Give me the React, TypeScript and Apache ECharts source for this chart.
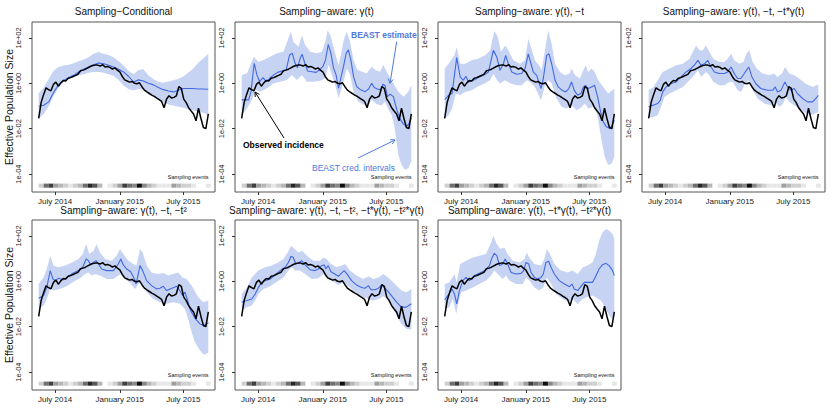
import React, { useEffect, useRef } from 'react';
import * as echarts from 'echarts';

const FONT = '"Liberation Sans", Arial, Helvetica, sans-serif';
const DAY = 86400000;
const WEEK = 7 * DAY;
const START = Date.UTC(2014, 4, 15);
const X_MIN = Date.UTC(2014, 3, 26);
const X_MAX = Date.UTC(2015, 8, 29);
const Y_MIN = -4.79;
const Y_MAX = 2.7;
const xTickDates = [Date.UTC(2014, 6, 1), Date.UTC(2015, 0, 1), Date.UTC(2015, 6, 1)];
const MONTHS = ['January', 'February', 'March', 'April', 'May', 'June', 'July', 'August', 'September', 'October', 'November', 'December'];
const yTickExponents = [-4, -2, 0, 2];

const titles = [
  'Sampling\u2212Conditional',
  'Sampling\u2212aware: \u03b3(t)',
  'Sampling\u2212aware: \u03b3(t), \u2212t',
  'Sampling\u2212aware: \u03b3(t), \u2212t, \u2212t*\u03b3(t)',
  'Sampling\u2212aware: \u03b3(t), \u2212t, \u2212t\u00b2',
  'Sampling\u2212aware: \u03b3(t), \u2212t, \u2212t\u00b2, \u2212t*\u03b3(t), \u2212t\u00b2*\u03b3(t)',
  'Sampling\u2212aware: \u03b3(t), \u2212t*\u03b3(t), \u2212t\u00b2*\u03b3(t)',
];

// weekly observed incidence (log10), week 0 = 2014-05-15
const observedLog10 = [
  -1.55, -0.85, -0.5, -0.2, -0.28, -0.33, -0.05, 0.05, -0.13, 0.02,
  0.12, 0.1, 0.22, 0.25, 0.3, 0.35, 0.4, 0.55, 0.58, 0.62,
  0.68, 0.74, 0.78, 0.8, 0.8, 0.76, 0.82, 0.72, 0.74, 0.7,
  0.62, 0.68, 0.58, 0.5, 0.3, 0.15, 0.1, 0.05, 0.08, 0.0,
  -0.02, 0.02, -0.15, -0.3, -0.38, -0.45, -0.52, -0.58, -0.65, -0.72,
  -0.8, -1.08, -0.7, -0.55, -0.65, -0.62, -0.55, -0.15, -0.22, -0.7,
  -0.85, -1.08, -1.22, -1.35, -1.65, -1.1, -1.55, -1.95, -2.0, -1.35,
];

// sampling events per two-week bin
const samplingCounts = [2, 6, 8, 4, 3, 2, 1, 2, 3, 6, 9, 7, 3, 0, 1, 2, 4, 8, 6, 5, 10, 5, 3, 2, 1, 1, 1, 4, 3, 2, 2, 1, 0, 0, 1];

// [week, log10 Ne]
const p1Mean = [[0,-1.01],[2,-0.97],[4.1,-0.82],[6.1,-0.4],[8.1,-0.05],[10.1,0.12],[12.2,0.25],[14.2,0.35],[16.2,0.5],[18.3,0.62],[20.3,0.72],[22.3,0.82],[24.4,0.89],[26.4,0.86],[28.4,0.79],[30.4,0.72],[32.5,0.62],[34.5,0.5],[36.5,0.31],[38.6,0.06],[40.6,0.15],[42.6,0.1],[44.6,0.0],[46.7,-0.07],[48.7,-0.19],[50.7,-0.28],[52.8,-0.34],[54.8,-0.38],[56.8,-0.31],[58.8,-0.23],[60.9,-0.23],[62.9,-0.23],[64.9,-0.25],[67,-0.25],[69,-0.26]];
const p1Upper = [[0,-0.45],[2,-0.2],[4.1,0.2],[6.1,0.55],[8.1,0.72],[10.1,0.78],[12.2,0.82],[14.2,0.88],[16.2,0.97],[18.3,1.05],[20.3,1.15],[22.3,1.3],[24.4,1.38],[26.4,1.3],[28.4,1.25],[30.4,1.15],[32.5,0.97],[34.5,0.78],[36.5,0.55],[38.6,0.4],[40.6,0.58],[42.6,0.62],[44.6,0.35],[46.7,0.18],[48.7,0.07],[50.7,0.02],[52.8,0.08],[54.8,0.13],[56.8,0.2],[58.8,0.3],[60.9,0.48],[62.9,0.65],[64.9,0.9],[67,1.1],[69,1.3]];
const p1Lower = [[0,-1.55],[2,-1.35],[4.1,-1.0],[6.1,-0.55],[8.1,-0.2],[10.1,0.05],[12.2,0.18],[14.2,0.28],[16.2,0.34],[18.3,0.4],[20.3,0.46],[22.3,0.5],[24.4,0.5],[26.4,0.46],[28.4,0.4],[30.4,0.33],[32.5,0.15],[34.5,-0.1],[36.5,-0.25],[38.6,-0.32],[40.6,-0.25],[42.6,-0.28],[44.6,-0.38],[46.7,-0.55],[48.7,-0.72],[50.7,-0.85],[52.8,-0.93],[54.8,-0.98],[56.8,-1.03],[58.8,-1.08],[60.9,-1.15],[62.9,-1.2],[64.9,-1.25],[67,-1.3],[69,-1.4]];

const p2Mean = [[0,-0.73],[2.8,-0.73],[3.8,-0.37],[5.1,0.88],[6.2,0.37],[7.3,0.07],[8.7,0.25],[10,0.07],[11.4,0.22],[13,0.37],[14.6,0.48],[16.4,0.54],[18.1,0.59],[19.5,1.25],[20.6,1.32],[21.7,0.88],[22.7,0.69],[23.8,1.1],[24.6,1.28],[25.7,0.88],[26.8,0.54],[28.6,0.51],[30.3,0.48],[31.7,0.59],[33,0.73],[34.1,1.03],[35.2,1.71],[36.3,1.32],[37.3,0.69],[38.4,0.37],[39.4,-0.22],[40.3,0.22],[41.4,0.73],[42.5,1.32],[43.4,1.47],[44.4,1.03],[45.5,0.29],[46.8,-0.15],[48.4,-0.29],[50.2,-0.37],[51.6,-0.25],[52.9,0.0],[53.9,-0.19],[55.2,-0.25],[56.6,-0.29],[57.4,-0.04],[58.3,-0.1],[59.3,-0.59],[60.4,-0.48],[61.7,-0.59],[63.1,-1.17],[64.4,-1.57],[65.8,-1.8],[67.1,-1.9],[68.2,-1.76],[69,-1.51]];
const p2Upper = [[0,0.37],[2.2,0.44],[4.9,1.17],[6.9,0.95],[8.9,1.03],[11.6,1.17],[14.3,1.32],[17,1.39],[19,1.98],[20,2.27],[21,1.83],[23.1,1.61],[24.5,2.12],[25.8,1.69],[27.9,1.39],[30.6,1.32],[32.6,1.39],[34,1.83],[35,2.34],[36.3,2.05],[38,1.32],[39.4,0.81],[40.3,1.25],[41.7,1.98],[42.8,2.27],[44.1,1.83],[45.5,1.03],[47.1,0.59],[48.9,0.51],[50.9,0.44],[52.9,0.73],[54.3,0.59],[56.3,0.51],[57.6,0.81],[59,0.51],[60.4,0.22],[61.7,0.0],[63.7,-0.37],[65.8,-0.59],[67.8,-0.37],[69,-0.07]];
const p2Lower = [[0,-1.39],[2.2,-1.1],[4.2,-0.73],[5.5,-0.29],[7.6,-0.37],[10.3,-0.22],[13,0],[15.7,0.07],[18.4,0.15],[20.4,0.37],[22.5,0.15],[24.5,0.37],[26.5,0.07],[29.2,0.07],[31.9,0.1],[34,0.22],[35.3,0.81],[36.7,0.37],[38,-0.07],[39.4,-0.66],[40.7,-0.22],[42.8,0.66],[44.1,0.37],[45.5,-0.37],[47.5,-0.81],[49.5,-0.95],[51.6,-0.95],[52.9,-0.73],[54.9,-0.92],[56.9,-0.98],[58.3,-0.81],[59.7,-1.17],[61,-1.39],[62,-1.83],[62.8,-2.42],[63.7,-3.15],[65,-3.59],[66.4,-3.81],[67.8,-3.74],[69,-3.44]];

const p3Mean = [[0,-0.72],[1.6,-0.53],[3,-0.45],[4.9,1.13],[6.3,0.28],[7.6,0.13],[8.6,0.31],[9.7,0.06],[11.7,0.13],[13.7,0.25],[15.8,0.35],[17.8,0.5],[19.8,1.45],[21.2,1.16],[22.5,0.57],[23.9,0.86],[24.8,1.23],[25.9,0.86],[27.3,0.5],[29.3,0.4],[31.3,0.43],[32.7,0.65],[34,1.3],[35.1,0.86],[36,0.5],[37.4,0.35],[39.2,-0.23],[40.1,0.2],[41.5,1.23],[42.4,1.3],[43.5,0.86],[44.9,0.13],[46.2,-0.16],[47.8,-0.31],[49.2,-0.38],[50.5,-0.23],[51.6,0.06],[52.7,-0.31],[54.1,-0.53],[55.4,-0.45],[56.4,-0.16],[57.3,-0.09],[58.4,-0.23],[59.7,-0.16],[61,-0.09],[62.2,-0.6],[63.3,-1.19],[64.5,-1.7],[65.8,-1.92],[67.2,-1.99],[68.1,-1.85],[69,-1.63]];
const p3Upper = [[0,0.64],[1.6,0.86],[4,1.23],[4.9,1.6],[6.3,0.86],[8.3,0.86],[11,1.01],[13.7,1.08],[16.4,1.23],[18.5,1.45],[20.2,2.3],[21.6,2.04],[22.9,1.38],[24.6,1.67],[25.9,1.45],[27.9,1.01],[30.6,0.86],[32.7,1.01],[34,1.96],[35.1,1.6],[36.7,1.01],[38.8,0.72],[39.4,0.57],[40.8,1.45],[42.1,2.33],[43.5,1.74],[44.9,0.86],[46.9,0.5],[48.9,0.35],[50.9,0.43],[51.6,0.65],[53,0.35],[55,0.21],[56.4,0.57],[57.3,0.79],[58.4,0.5],[59.7,0.65],[61,0.5],[62.5,0.13],[64.5,-0.16],[66.5,-0.45],[69,-0.23]];
const p3Lower = [[0,-1.55],[1.6,-1.41],[3,-1.11],[4.5,-0.45],[6.3,-0.53],[8.3,-0.38],[11,-0.31],[13.7,-0.13],[16.4,0],[18.5,0.13],[19.8,0.42],[21.2,0.16],[22.5,-0.01],[24.6,0.13],[26.6,0],[29.3,-0.09],[31.3,-0.09],[33.4,0.13],[34.7,0.06],[36.7,-0.16],[39.2,-0.75],[40.8,-0.09],[42.1,0.13],[43.5,0],[45.5,-0.67],[47.6,-1.04],[49.6,-1.11],[51.6,-0.97],[53.7,-1.19],[55.7,-1.04],[57,-0.89],[58.4,-1.11],[60.4,-1.04],[61.8,-1.26],[62.7,-1.77],[63.8,-2.51],[65.1,-3.24],[66.5,-3.6],[67.9,-3.53],[69,-3.24]];

const p4Mean = [[0,-1.04],[1.7,-0.97],[3.7,-0.89],[4.7,-0.75],[5.7,-0.38],[7.1,-0.16],[9.1,-0.01],[11.2,0.06],[13.2,0.28],[15.2,0.5],[17.2,0.65],[19,0.86],[20,1.01],[21.3,0.79],[22.7,0.86],[24,1.01],[25.4,0.72],[26.7,0.5],[28.7,0.43],[30.8,0.43],[32.1,0.5],[33.5,0.72],[34.8,0.43],[36.2,0.21],[37.5,0.21],[39.3,0.5],[40.7,0.72],[42,0.28],[43.6,-0.02],[45.6,-0.23],[48.4,-0.31],[50.4,-0.31],[51.5,-0.16],[52.4,-0.38],[53.8,-0.31],[55.4,0.06],[56.5,-0.16],[57.8,-0.31],[59.2,-0.23],[60.5,-0.45],[62.6,-0.67],[64.6,-0.82],[66.7,-0.82],[68,-0.67],[69,-0.53]];
const p4Upper = [[0,-0.3],[1.7,-0.2],[3.5,0.1],[5.7,0.5],[8.5,0.65],[11.2,0.79],[13.9,0.86],[16.6,1.08],[17.9,1.38],[19.3,1.67],[20.6,1.45],[22,1.45],[23.3,1.67],[24.7,1.38],[26.3,1.08],[28.7,0.94],[30.8,0.94],[32.1,1.08],[33.5,1.3],[34.8,1.01],[36.9,0.86],[38.5,0.94],[39.8,1.3],[40.9,1.45],[42.3,0.94],[43.9,0.65],[46.3,0.43],[49,0.35],[51,0.43],[52.4,0.28],[54.2,0.43],[55.5,0.72],[57.2,0.43],[59.2,0.35],[61.2,0.21],[63.9,-0.02],[66.7,-0.16],[69,-0.05]];
const p4Lower = [[0,-1.5],[1.7,-1.5],[3.7,-1.41],[5,-1.04],[6.4,-0.6],[8.5,-0.45],[11.2,-0.31],[13.9,-0.16],[16.6,0.13],[18.6,0.35],[20,0.57],[21.3,0.28],[23.3,0.5],[24.7,0.35],[26.3,0.06],[28.7,-0.09],[30.8,-0.09],[32.8,0.06],[34.2,0.06],[36.2,-0.31],[37.5,-0.38],[39.3,-0.02],[40.7,0.13],[42.3,-0.31],[44.3,-0.67],[47,-0.89],[49.7,-0.97],[51.5,-0.82],[53.1,-1.04],[54.7,-0.89],[55.8,-0.6],[57.2,-0.82],[59.2,-0.97],[61.2,-1.11],[63.2,-1.26],[65.9,-1.41],[69,-1.26]];

const p5Mean = [[0,-0.75],[2,-0.63],[3.3,-0.27],[4.7,0.47],[5.8,0.1],[6.7,0.03],[8,0.13],[10.1,0.07],[12.1,0.22],[14.1,0.37],[16.2,0.47],[17.9,0.62],[19.3,0.98],[20.2,0.91],[21.2,0.72],[22.3,0.83],[23.3,0.91],[24.3,0.76],[25.6,0.54],[27.7,0.47],[30.4,0.47],[31.5,0.62],[32.4,0.76],[33.4,0.98],[34.4,0.72],[35.8,0.54],[37.4,0.42],[38.8,0.13],[39.6,-0.12],[40.5,0.32],[41.2,0.69],[42.3,0.47],[43.9,0.03],[45.9,-0.19],[48,-0.34],[49.3,-0.31],[50.7,-0.22],[52,-0.41],[53.4,-0.34],[55,-0.27],[56.1,-0.22],[57.4,-0.41],[58.5,-0.63],[59.5,-0.48],[60.4,-0.78],[61.8,-1.29],[63.6,-1.63],[65.6,-1.88],[67.2,-1.95],[69,-1.83]];
const p5Upper = [[0,-0.12],[2,0.17],[3.3,0.54],[4.7,1.13],[6,0.69],[8,0.62],[10.8,0.69],[13.5,0.83],[16.2,0.98],[17.9,1.2],[19.3,1.64],[20.6,1.2],[22.3,1.35],[23.6,1.64],[24.9,1.27],[27,0.98],[29.7,0.91],[31.7,1.13],[33.1,1.42],[34.4,1.2],[36.5,0.91],[38.5,0.76],[39.8,0.69],[41.2,1.42],[42.3,1.27],[43.9,0.69],[45.9,0.39],[48.6,0.32],[50.7,0.37],[52.7,0.25],[54.7,0.32],[56.8,0.39],[58.5,0.17],[60.1,0.1],[62.2,-0.19],[64.9,-0.7],[66.9,-0.92],[69,-0.85]];
const p5Lower = [[0,-1.22],[2,-1.07],[3.3,-0.78],[4.7,-0.34],[6,-0.41],[8.7,-0.34],[11.4,-0.22],[14.1,-0.02],[16.8,0.13],[18.9,0.32],[20.2,0.39],[21.6,0.25],[22.9,0.32],[24.9,0.25],[27.7,0.1],[30.4,0.1],[32.4,0.25],[33.8,0.32],[35.1,0.1],[37.1,-0.05],[39.2,-0.34],[40.5,-0.12],[41.9,-0.05],[43.9,-0.48],[46.6,-0.78],[49.3,-0.92],[52,-0.99],[54.7,-0.92],[57.4,-0.99],[59.5,-1.22],[60.8,-1.66],[62.2,-2.24],[63.5,-2.68],[65.6,-3.05],[67.2,-3.24],[69,-3.15]];

const p6Mean = [[0,-0.92],[2.1,-0.85],[4.1,-0.78],[5.5,-0.56],[6.8,-0.27],[8.2,-0.04],[9.5,0.03],[11.6,0.1],[13.6,0.28],[15.6,0.47],[17.7,0.62],[19,0.83],[20.1,1.1],[21,1.05],[22,0.76],[23.3,0.83],[24.4,0.91],[25.8,0.72],[27.8,0.51],[29.8,0.47],[31.2,0.54],[32.5,0.69],[33.6,0.72],[34.2,0.54],[35.2,0.69],[36.3,0.42],[37.9,0.32],[39.3,0.22],[40.7,0.37],[41.7,0.47],[43.1,0.28],[44.7,0.03],[46.7,-0.16],[48.8,-0.27],[50.1,-0.31],[51.5,-0.19],[52.6,-0.37],[54.2,-0.37],[55.6,-0.31],[56.9,-0.16],[58.3,-0.31],[59.6,-0.46],[60.9,-0.63],[63,-0.92],[65,-1.14],[67,-1.14],[69,-0.99]];
const p6Upper = [[0,-0.56],[2.1,-0.27],[4.1,0.17],[6.8,0.47],[9.5,0.62],[12.2,0.69],[14.9,0.83],[17,0.98],[18.7,1.27],[20.1,1.57],[21.5,1.42],[23.1,1.27],[24.7,1.35],[26.5,1.13],[29.2,0.91],[31.9,0.91],[33.2,1.05],[34.5,0.98],[36.3,0.76],[38.6,0.62],[40.7,0.69],[42.1,0.76],[44,0.47],[46.7,0.25],[49.5,0.1],[51.5,0.22],[53.5,0.1],[55.6,0.17],[57.6,0.32],[59.6,0.17],[62.3,-0.12],[65,-0.41],[67,-0.48],[69,-0.34]];
const p6Lower = [[0,-1.29],[2.1,-1.14],[4.1,-1.07],[5.5,-0.85],[6.8,-0.56],[8.9,-0.34],[11.6,-0.22],[14.3,-0.02],[17,0.17],[19,0.47],[20.4,0.62],[21.7,0.47],[23.7,0.47],[25.8,0.32],[28.5,0.1],[31.2,0.13],[33.2,0.32],[34.5,0.22],[36.6,0.03],[39.3,-0.16],[41.3,-0.04],[43.4,-0.22],[46.1,-0.48],[48.8,-0.66],[51.5,-0.78],[53.5,-0.85],[55.6,-0.78],[57.6,-0.66],[59.3,-0.78],[60.9,-1.07],[63,-1.51],[65,-1.88],[67,-2.1],[69,-2.12]];

const p7Mean = [[0,-0.82],[1.7,-0.56],[3,-0.34],[4,-0.56],[4.9,-1.0],[6,-0.41],[7.4,0.03],[8.7,0.17],[10.1,0.03],[12.1,0.25],[14.1,0.35],[16.2,0.47],[18.2,0.69],[19.3,1.05],[20.2,1.23],[21.2,1.13],[22.3,0.69],[23.6,0.76],[24.6,0.98],[25.6,0.76],[27,0.39],[29,0.32],[31.1,0.35],[32.1,0.47],[33.1,0.83],[34.2,0.76],[35.1,0.39],[36.5,0.17],[37.8,0.1],[39.2,0.17],[40.1,0.32],[41.2,0.83],[42.3,0.88],[43.3,0.61],[44.6,0.32],[46.6,0.03],[48.7,-0.12],[50.8,-0.24],[51.8,-0.12],[52.7,-0.34],[54.1,-0.41],[55.7,-0.19],[56.8,-0.05],[58.8,-0.05],[60.1,-0.05],[61.2,0.17],[62.8,0.54],[64.2,0.73],[65.6,0.79],[66.9,0.69],[68.3,0.47],[69,0.25]];
const p7Upper = [[0,-0.12],[1.9,-0.05],[4,0.32],[4.9,-0.05],[6.3,0.76],[8.7,0.91],[11.4,1.05],[14.1,1.13],[16.8,1.2],[18.9,1.71],[19.8,2.01],[20.9,1.71],[22.5,1.42],[24.3,1.49],[25.6,1.2],[27.7,0.91],[30.4,0.83],[32.4,0.98],[33.4,1.27],[34.4,1.05],[36.5,0.76],[39.2,0.69],[40.5,0.98],[41.6,1.42],[42.8,1.2],[44.6,0.76],[47.3,0.47],[50,0.39],[52,0.47],[54.1,0.32],[56.1,0.61],[58.1,0.69],[60.1,0.83],[61.5,1.2],[62.8,1.79],[64.2,2.15],[65.6,2.3],[66.9,2.23],[68.3,2.08],[69,1.86]];
const p7Lower = [[0,-1.22],[1.9,-1.14],[3.3,-0.78],[4.7,-1.44],[5.3,-1.07],[6.7,-0.48],[8.7,-0.41],[11.4,-0.27],[14.1,-0.12],[16.8,0.03],[18.9,0.25],[20.2,0.47],[21.6,0.32],[23.6,0.1],[24.9,0.25],[26.3,0.03],[29,-0.12],[31.8,-0.12],[33.1,0.17],[34.4,0.03],[36.5,-0.27],[38.5,-0.41],[40.1,-0.27],[41.5,0.17],[43.3,-0.12],[45.3,-0.56],[48,-0.78],[50.7,-0.92],[52.1,-0.78],[54.1,-1.0],[56.1,-0.78],[58.1,-0.68],[60.1,-0.63],[61.5,-0.71],[63.5,-0.85],[65.6,-1.22],[66.9,-1.51],[68.3,-1.66],[69,-1.58]];

const panels = [
  { mean: p1Mean, upper: p1Upper, lower: p1Lower },
  { mean: p2Mean, upper: p2Upper, lower: p2Lower },
  { mean: p3Mean, upper: p3Upper, lower: p3Lower },
  { mean: p4Mean, upper: p4Upper, lower: p4Lower },
  { mean: p5Mean, upper: p5Upper, lower: p5Lower },
  { mean: p6Mean, upper: p6Upper, lower: p6Lower },
  { mean: p7Mean, upper: p7Upper, lower: p7Lower },
];

const COL_LEFT = [32, 235, 438, 642];
const ROW_TOP = [22, 220];
const PW = 183;
const PH = 170;
const BLUE = '#4169e1';
const BAND = '#c6d3f2';
const NOTE_BLUE = '#4f78e0';

const wk = (w: number) => START + w * WEEK;
const toXY = (arr: number[][]) => arr.map(([w, v]) => [wk(w), v]);

function arrow(x1: number, y1: number, x2: number, y2: number, color: string): any[] {
  const ang = Math.atan2(y2 - y1, x2 - x1);
  const L = 5;
  const a = Math.PI / 6;
  const h1 = [x2 - L * Math.cos(ang - a), y2 - L * Math.sin(ang - a)];
  const h2 = [x2 - L * Math.cos(ang + a), y2 - L * Math.sin(ang + a)];
  return [
    { type: 'line', shape: { x1, y1, x2, y2 }, style: { stroke: color, lineWidth: 1 }, z: 100 },
    { type: 'polyline', shape: { points: [h1, [x2, y2], h2] }, style: { stroke: color, lineWidth: 1, fill: null }, z: 100 },
  ];
}

function text(t: string, x: number, y: number, size: number, opts: any = {}): any {
  return {
    type: 'text',
    x,
    y,
    rotation: opts.rotation || 0,
    z: 100,
    style: {
      text: t,
      x: 0,
      y: 0,
      fill: opts.color || '#111',
      fontSize: size,
      fontFamily: FONT,
      fontWeight: opts.bold ? 'bold' : 'normal',
      textAlign: opts.align || 'center',
      textVerticalAlign: 'middle',
      align: opts.align || 'center',
      verticalAlign: 'middle',
    },
  };
}

function buildOption(): any {
  const grid: any[] = [];
  const xAxis: any[] = [];
  const yAxis: any[] = [];
  const series: any[] = [];
  const graphic: any[] = [];

  panels.forEach((p, k) => {
    const left = COL_LEFT[k % 4];
    const row = k < 4 ? 0 : 1;
    const top = ROW_TOP[row];
    grid.push({ left, top, width: PW, height: PH, show: true, borderColor: '#555', borderWidth: 1, backgroundColor: 'transparent' });
    xAxis.push({
      gridIndex: k,
      type: 'value',
      position: 'bottom',
      min: X_MIN,
      max: X_MAX,
      splitLine: { show: false },
      axisLine: { show: false, onZero: false },
      axisTick: { show: true, length: 3, customValues: xTickDates, lineStyle: { color: '#333' } },
      axisLabel: {
        customValues: xTickDates,
        fontSize: 8,
        color: '#222',
        margin: 5,
        fontFamily: FONT,
        formatter: (v: number) => {
          const d = new Date(v);
          return MONTHS[d.getUTCMonth()] + ' ' + d.getUTCFullYear();
        },
      },
    });
    yAxis.push({
      gridIndex: k,
      type: 'value',
      position: 'left',
      min: Y_MIN,
      max: Y_MAX,
      splitLine: { show: false },
      axisLine: { show: false, onZero: false },
      axisTick: { show: true, length: 3, customValues: yTickExponents, lineStyle: { color: '#333' } },
      axisLabel: {
        customValues: yTickExponents,
        rotate: 90,
        align: 'center',
        verticalAlign: 'bottom',
        fontSize: 7.5,
        color: '#222',
        margin: 10,
        fontFamily: FONT,
        formatter: (v: number) => '1e' + (v < 0 ? '-' : '+') + String(Math.abs(v)).padStart(2, '0'),
      },
    });

    const upper = p.upper;
    const lower = p.lower;
    series.push({
      type: 'custom',
      xAxisIndex: k,
      yAxisIndex: k,
      data: [[START, 0]],
      z: 1,
      silent: true,
      renderItem: (_params: any, api: any) => {
        const pts: number[][] = [];
        upper.forEach(([w, v]) => pts.push(api.coord([wk(w), v])));
        lower.slice().reverse().forEach(([w, v]) => pts.push(api.coord([wk(w), v])));
        return { type: 'polygon', shape: { points: pts }, style: { fill: BAND, stroke: null } };
      },
    });
    series.push({
      type: 'custom',
      xAxisIndex: k,
      yAxisIndex: k,
      z: 1,
      silent: true,
      data: samplingCounts.map((c, i) => [wk(2 * i), -4.5, wk(2 * i + 2), c]),
      renderItem: (_params: any, api: any) => {
        const c = api.value(3);
        const p0 = api.coord([api.value(0), -4.42]);
        const p1 = api.coord([api.value(2), -4.6]);
        const g = Math.round(255 - 24 * c);
        return {
          type: 'rect',
          shape: { x: p0[0], y: p0[1], width: p1[0] - p0[0], height: p1[1] - p0[1] },
          style: { fill: `rgb(${g},${g},${g})` },
        };
      },
    });
    series.push({
      type: 'line',
      xAxisIndex: k,
      yAxisIndex: k,
      data: toXY(p.mean),
      showSymbol: false,
      z: 2,
      lineStyle: { color: BLUE, width: 1.1 },
      itemStyle: { color: BLUE },
    });
    series.push({
      type: 'line',
      xAxisIndex: k,
      yAxisIndex: k,
      data: observedLog10.map((v, i) => [wk(i), v]),
      showSymbol: false,
      z: 3,
      lineStyle: { color: '#000', width: 1.5 },
      itemStyle: { color: '#000' },
    });

    graphic.push(text(titles[k], left + PW / 2, top - (row === 0 ? 11 : 9.5), 10));
    graphic.push(text('Sampling events', left + 6.5 + 170, top + 155, 5.5, { align: 'right' }));
    if (k % 4 === 0) {
      graphic.push(text('Effective Population Size', 9, top + 85, 10.5, { rotation: Math.PI / 2 }));
    }
  });

  // annotations in the second panel
  graphic.push(text('BEAST estimate', 351, 35, 8.5, { bold: true, color: NOTE_BLUE, align: 'left' }));
  graphic.push(...arrow(396.7, 41.7, 390, 83.3, NOTE_BLUE));
  graphic.push(text('Observed incidence', 243, 145, 8.5, { bold: true, color: '#000', align: 'left' }));
  graphic.push(...arrow(284, 138, 255, 92, '#000'));
  graphic.push(text('BEAST cred. intervals', 312, 168, 8.5, { color: NOTE_BLUE, align: 'left' }));
  graphic.push(...arrow(358, 158, 395, 140, NOTE_BLUE));

  return {
    animation: false,
    backgroundColor: '#fff',
    textStyle: { fontFamily: FONT },
    grid,
    xAxis,
    yAxis,
    series,
    graphic,
  };
}

export default function App() {
  const ref = useRef<HTMLDivElement>(null);
  useEffect(() => {
    if (!ref.current) return;
    const chart = echarts.init(ref.current, null, { renderer: 'svg' });
    chart.setOption(buildOption());
    return () => chart.dispose();
  }, []);
  return <div ref={ref} style={{ position: 'fixed', left: 0, top: 0, width: 830, height: 415, background: '#fff' }} />;
}
